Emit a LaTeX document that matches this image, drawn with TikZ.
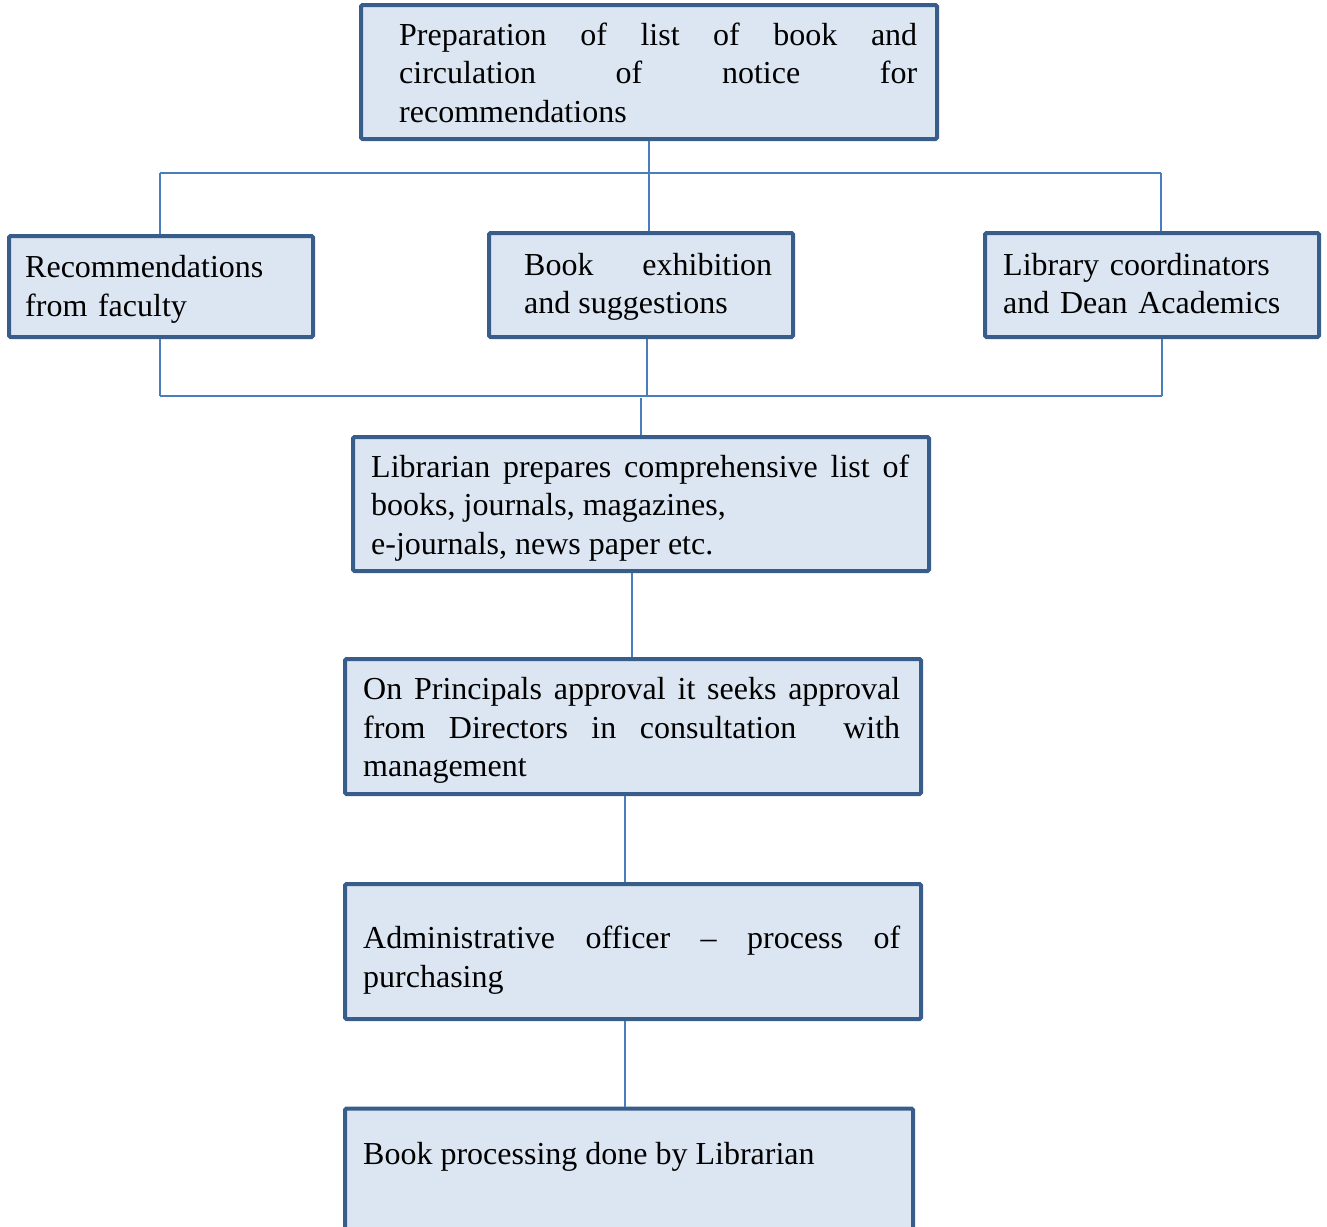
\documentclass[tikz,border=0pt]{standalone}
\usepackage{fontspec}
\setmainfont{Liberation Serif}
\setlength\parindent{0pt}
\hyphenpenalty=10000
\exhyphenpenalty=10000
\tolerance=10000
\hbadness=10000
\definecolor{boxborder}{HTML}{385D8A}
\definecolor{boxfill}{HTML}{DCE6F2}
\definecolor{linkcol}{HTML}{4A7EBB}
\begin{document}
\begin{tikzpicture}[x=1pt,y=-1pt,
  stepbox/.style={draw=boxborder,fill=boxfill,line width=4pt,rounded corners=1.5pt,inner sep=0pt},
  txt/.style={anchor=west,inner sep=0pt,align=justify,yshift=-4pt,font=\fontsize{32}{38.5}\selectfont,
    execute at begin node={\strut},execute at end node={\strut}},
  link/.style={draw=linkcol,line width=1.8pt}]
\clip (0,0) rectangle (1327,1226);
% boxes
\node[stepbox,minimum width=576,minimum height=134] (b1) at (649,72) {};
\node[txt,text width=518] (t1) at ([xshift=40]b1.west)
  {Preparation of list of book and\linebreak circulation of notice for\linebreak recommendations};
\node[stepbox,minimum width=304,minimum height=101] (bL) at (161,286.5) {};
\node[txt,text width=290,align=left,yshift=1pt] (tL) at ([xshift=18]bL.west)
  {Recommendations\\from faculty};
\node[stepbox,minimum width=304,minimum height=104] (bM) at (641,285) {};
\node[txt,text width=248,yshift=2pt] (tM) at ([xshift=37]bM.west)
  {Book exhibition\linebreak and suggestions};
\node[stepbox,minimum width=334,minimum height=104] (bR) at (1152,285) {};
\node[txt,text width=310,align=left,yshift=2pt] (tR) at ([xshift=20]bR.west)
  {Library coordinators\\and Dean Academics};
\node[stepbox,minimum width=576,minimum height=134] (bLib) at (641,504) {};
\node[txt,text width=538] (tLib) at ([xshift=20]bLib.west)
  {Librarian prepares comprehensive list of\linebreak books, journals, magazines,\newline e-journals, news paper etc.};
\node[stepbox,minimum width=576,minimum height=135] (bPr) at (633,726.5) {};
\node[txt,text width=537] (tPr) at ([xshift=20]bPr.west)
  {On Principals approval it seeks approval\linebreak from Directors in consultation~ with\linebreak management};
\node[stepbox,minimum width=576,minimum height=135] (bAd) at (633,951.5) {};
\node[txt,text width=537,yshift=-5pt] (tAd) at ([xshift=20]bAd.west)
  {Administrative officer -- process of\linebreak purchasing};
\node[stepbox,minimum width=568,minimum height=135] (bBot) at (629,1176) {};
\node[txt,text width=537,yshift=4pt] (tBot) at ([xshift=20]bBot.west)
  {Book processing done by Librarian\newline\strut};
% connectors
\coordinate (h1L) at (160,173);
\coordinate (h1R) at (1161,173);
\coordinate (h2L) at (160,396);
\coordinate (h2R) at (1162,396);
\path[link] (h1L) -- (h1R);
\path[link] (h1L) -- (h1L |- bL.north);
\path[link] (h1R) -- (h1R |- bR.north);
\path[link] (b1.south) -- (b1.south |- bM.north);
\path[link] (h2L) -- (h2R);
\path[link] (h2L |- bL.south) -- (h2L);
\path[link] (h2R |- bR.south) -- (h2R);
\path[link] ([xshift=6]bM.south) -- ([xshift=6]bM.south |- h2L);
\path[link] ([yshift=-2]bLib.north |- h2L) -- (bLib.north);
\path[link] ([xshift=-9]bLib.south) -- ([xshift=-9]bLib.south |- bPr.north);
\path[link] ([xshift=-8]bPr.south) -- ([xshift=-8]bAd.north);
\path[link] ([xshift=-8]bAd.south) -- ([xshift=-4]bBot.north);
\end{tikzpicture}
\end{document}
